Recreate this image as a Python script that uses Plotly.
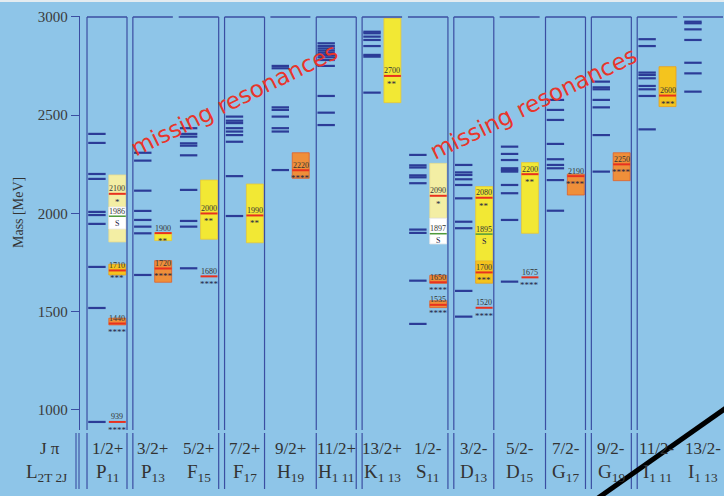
import plotly.graph_objects as go

# ---------------------------------------------------------------- partial waves
spin_parity = ["1/2+", "3/2+", "5/2+", "7/2+", "9/2+", "11/2+", "13/2+",
               "1/2-", "3/2-", "5/2-", "7/2-", "9/2-", "11/2-", "13/2-"]
wave_letter = ["P", "P", "F", "F", "H", "H", "K", "S", "D", "D", "G", "G", "I", "I"]
wave_index = ["11", "13", "15", "17", "19", "1 11", "1 13",
              "11", "13", "15", "17", "19", "1 11", "1 13"]

# ---------------------------------------------------------------- quark-model levels (MeV)
qm_P11 = [2405, 2359, 2201, 2176, 2008, 1992, 1947, 1728, 1519, 939]
qm_P13 = [2309, 2269, 2116, 2013, 1967, 1933, 1899, 1687]
qm_F15 = [2434, 2405, 2391, 2357, 2345, 2296, 2120, 1962, 1933, 1721]
qm_F17 = [2493, 2472, 2460, 2434, 2417, 2399, 2365, 2190, 1987]
qm_H19 = [2751, 2739, 2540, 2527, 2493, 2434, 2417, 2221]
qm_H111 = [2866, 2852, 2840, 2829, 2818, 2807, 2795, 2781, 2751, 2598, 2513, 2450]
qm_K113 = [2925, 2917, 2900, 2883, 2852, 2807, 2798, 2615]
qm_S11 = [2298, 2245, 2234, 2194, 2184, 2154, 1918, 1901, 1658, 1438]
qm_D13 = [2247, 2209, 2196, 2174, 2145, 2077, 1958, 1925, 1606, 1475]
qm_D15 = [2340, 2303, 2272, 2230, 2221, 2213, 2145, 2103, 1967, 1653]
qm_G17 = [2578, 2527, 2476, 2354, 2276, 2247, 2230, 2170, 2014]
qm_G19 = [2671, 2642, 2632, 2578, 2540, 2399, 2213]
qm_I111 = [2887, 2852, 2717, 2705, 2688, 2649, 2632, 2598, 2428]
qm_I113 = [2976, 2968, 2937, 2883, 2767, 2713, 2620]
quark_levels = [qm_P11, qm_P13, qm_F15, qm_F17, qm_H19, qm_H111, qm_K113,
                qm_S11, qm_D13, qm_D15, qm_G17, qm_G19, qm_I111, qm_I113]

# ---------------------------------------------------------------- observed resonances
res_wave = [0, 0, 0, 0, 0, 1, 1, 2, 2, 3, 4, 6, 7, 7, 7, 7, 8, 8, 8, 8, 9, 9, 10, 11, 12]
res_mass = [939, 1440, 1710, 2100, 1986, 1720, 1900, 1680, 2000, 1990, 2220, 2700,
            1535, 1650, 2090, 1897, 1520, 1700, 2080, 1895, 1675, 2200, 2190, 2250, 2600]
res_low = [939, 1433, 1687, 1855, 1921, 1650, 1862, 1680, 1869, 1851, 2179, 2564,
           1521, 1645, 1976, 1845, 1520, 1645, 1760, 1895, 1675, 1899, 2094, 2167, 2544]
res_high = [939, 1467, 1742, 2196, 2033, 1760, 1902, 1680, 2170, 2150, 2309, 2993,
            1556, 1685, 2255, 1976, 1520, 1760, 2137, 1895, 1675, 2259, 2200, 2309, 2747]
res_rating = ["****", "****", "***", "*", "S", "****", "**", "****", "**", "**", "****", "**",
              "****", "****", "*", "S", "****", "***", "**", "S", "****", "**", "****", "****", "***"]

mass_ticks = [1000, 1500, 2000, 2500, 3000]

# ---------------------------------------------------------------- styling
BG = "#8EC5E8"
FRAME = "#3B4EA2"
QM_COLOR = "#2C3C97"
FILL = {"****": "#EF8F3A", "***": "#F4C41E", "**": "#F2E834", "*": "#F3EEA4", "S": "#FFFFFF"}
EDGE = {"****": "#E0602A", "***": "#E8A020", "**": "#E6C83A", "*": "#E6DC90", "S": "#E8E8E8"}
GREEN = "#4E9A3A"
RED = "#E8311F"
SERIF = "Liberation Serif, Times New Roman, serif"
INK = "#333333"

HALF = 0.436           # half width of a partial-wave column
QM_X = (-0.41, -0.03)  # quark-model stubs relative to column centre
EXP_X = (0.04, 0.41)   # experimental boxes relative to column centre
Y_RANGE = [898, 3005]
X_RANGE = [-0.589, 13.457]

fig = go.Figure()

# quark-model predictions
qx, qy = [], []
for i, levels in enumerate(quark_levels):
    for m in levels:
        qx += [i + QM_X[0], i + QM_X[1], None]
        qy += [m, m, None]
fig.add_trace(go.Scatter(x=qx, y=qy, mode="lines",
                         line=dict(color=QM_COLOR, width=2.2),
                         hoverinfo="skip", showlegend=False))

# experimental mass ranges
box = [k for k in range(len(res_mass)) if res_high[k] > res_low[k]]
xc = (EXP_X[0] + EXP_X[1]) / 2
fig.add_trace(go.Bar(
    x=[res_wave[k] + xc for k in box],
    base=[res_low[k] for k in box],
    y=[res_high[k] - res_low[k] for k in box],
    width=EXP_X[1] - EXP_X[0],
    marker=dict(color=[FILL[res_rating[k]] for k in box],
                line=dict(color=[EDGE[res_rating[k]] for k in box], width=0.8)),
    hoverinfo="skip", showlegend=False))

# central masses: red for rated states, green for the SAPHIR candidates
for colour, want_s in ((RED, False), (GREEN, True)):
    lx, ly = [], []
    for k in range(len(res_mass)):
        if (res_rating[k] == "S") == want_s:
            lx += [res_wave[k] + EXP_X[0], res_wave[k] + EXP_X[1], None]
            ly += [res_mass[k], res_mass[k], None]
    fig.add_trace(go.Scatter(x=lx, y=ly, mode="lines",
                             line=dict(color=colour, width=2 if not want_s else 1.5),
                             hoverinfo="skip", showlegend=False))

ann = []
# mass labels above and star ratings below each central mass
for k in range(len(res_mass)):
    ann.append(dict(xref="x", yref="y", x=res_wave[k] + xc, y=res_mass[k],
                    text=str(res_mass[k]), showarrow=False, xanchor="center",
                    yanchor="middle", yshift=5,
                    font=dict(family=SERIF, size=8, color=INK)))
    rating = res_rating[k]
    ann.append(dict(xref="x", yref="y", x=res_wave[k] + xc, y=res_mass[k],
                    text=rating, showarrow=False, xanchor="center",
                    yanchor="middle", yshift=-8 if rating != "S" else -7,
                    font=dict(family=SERIF, size=9 if rating != "S" else 8,
                              color="#222244")))

# ---------------------------------------------------------------- column frames
shapes = []
for i in range(len(spin_parity)):
    shapes.append(dict(type="line", xref="x", yref="y", x0=i - HALF, x1=i + HALF,
                       y0=3000, y1=3000, line=dict(color=FRAME, width=1.3)))

frame_edges = [(0, -1), (0, 1), (1, -1), (2, 1), (3, -1), (3, 1), (5, -1), (5, 1),
               (6, -1), (7, 1), (8, -1), (8, 1), (10, -1), (10, 1), (11, -1), (11, 1), (12, -1)]


def px_to_paper(p):
    return (430 - p) / 414


for col, side in frame_edges:
    xe = col + side * HALF
    shapes.append(dict(type="line", xref="x", yref="y", x0=xe, x1=xe,
                       y0=Y_RANGE[0], y1=3000, line=dict(color=FRAME, width=1.2)))
    shapes.append(dict(type="line", xref="x", yref="paper", x0=xe, x1=xe,
                       y0=px_to_paper(433), y1=px_to_paper(489),
                       line=dict(color=FRAME, width=1.2)))
# double rule beside the J pi / L labels
for p in (76, 79):
    xp = (p - 80) / 644
    shapes.append(dict(type="line", xref="paper", yref="paper", x0=xp, x1=xp,
                       y0=px_to_paper(433), y1=px_to_paper(489),
                       line=dict(color=FRAME, width=1.1)))
# thin light rim along the top edge
shapes.append(dict(type="rect", xref="paper", yref="paper", x0=-0.2, x1=1.0,
                   y0=px_to_paper(2), y1=px_to_paper(-1), fillcolor="#E4ECF0",
                   line=dict(width=0), layer="above"))
# black diagonal stroke at the lower right
shapes.append(dict(type="line", xref="paper", yref="paper",
                   x0=(598 - 80) / 644, y0=px_to_paper(498),
                   x1=(726 - 80) / 644, y1=px_to_paper(408),
                   line=dict(color="black", width=5), layer="above"))

# ---------------------------------------------------------------- header and titles
for i in range(len(spin_parity)):
    ann.append(dict(xref="x", yref="paper", x=i, y=px_to_paper(448), text=spin_parity[i],
                    showarrow=False, xanchor="center", yanchor="middle",
                    font=dict(family=SERIF, size=17, color=INK)))
    ann.append(dict(xref="x", yref="paper", x=i, y=px_to_paper(473),
                    text=f"{wave_letter[i]}<sub>{wave_index[i]}</sub>",
                    showarrow=False, xanchor="center", yanchor="middle",
                    font=dict(family=SERIF, size=19, color=INK)))
ann.append(dict(xref="paper", yref="paper", x=(50 - 80) / 644, y=px_to_paper(448),
                text="J \u03c0", showarrow=False, xanchor="center", yanchor="middle",
                font=dict(family=SERIF, size=17, color=INK)))
ann.append(dict(xref="paper", yref="paper", x=(46 - 80) / 644, y=px_to_paper(473),
                text="L<sub>2T 2J</sub>", showarrow=False, xanchor="center", yanchor="middle",
                font=dict(family=SERIF, size=19, color=INK)))
ann.append(dict(xref="paper", yref="paper", x=(18 - 80) / 644, y=px_to_paper(213),
                text="Mass [MeV]", textangle=-90, showarrow=False,
                xanchor="center", yanchor="middle",
                font=dict(family=SERIF, size=14, color=INK)))
for xa, ya in ((2.77, 2575), (9.31, 2562)):
    ann.append(dict(xref="x", yref="y", x=xa, y=ya, text="missing resonances",
                    textangle=-26, showarrow=False, xanchor="center", yanchor="middle",
                    font=dict(family="DejaVu Sans, sans-serif", size=23, color="#E8352B")))

fig.update_layout(
    width=724, height=496,
    margin=dict(l=80, r=0, t=16, b=66),
    paper_bgcolor=BG, plot_bgcolor=BG,
    barmode="overlay",
    shapes=shapes, annotations=ann,
    xaxis=dict(range=X_RANGE, visible=False, fixedrange=True),
    yaxis=dict(range=Y_RANGE, tickvals=mass_ticks, ticks="outside", ticklen=8,
               tickcolor=FRAME, showline=True, linecolor=FRAME, linewidth=1.3,
               showgrid=False, zeroline=False,
               tickfont=dict(family=SERIF, size=15, color="#3a3a3a")),
    showlegend=False,
)

fig.write_html("out.html")
